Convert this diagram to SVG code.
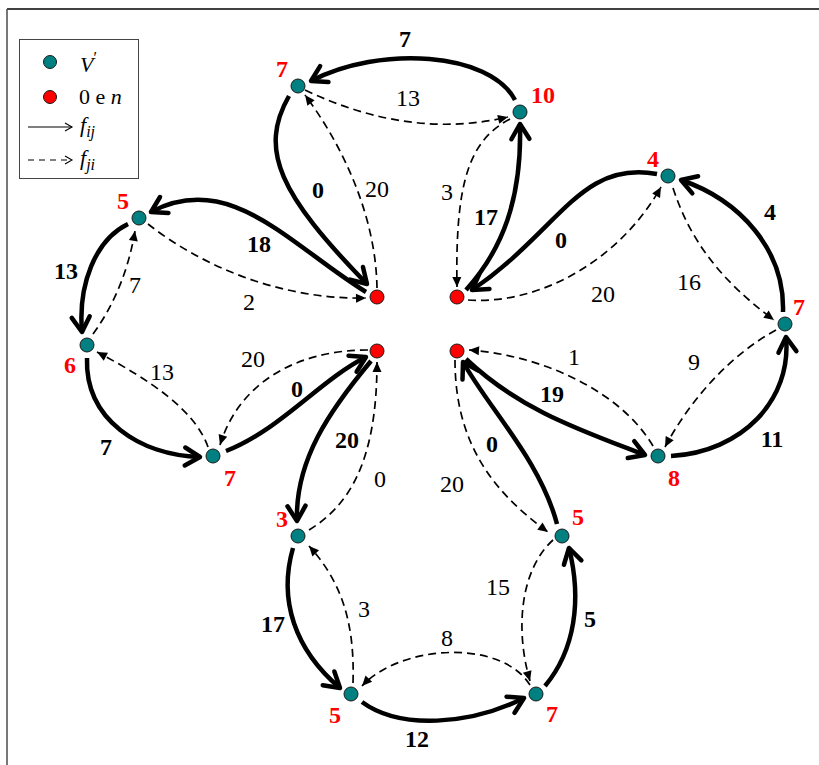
<svg xmlns="http://www.w3.org/2000/svg" width="819" height="765" viewBox="0 0 819 765" font-family="'Liberation Serif', 'DejaVu Serif', serif">
<style>
.s{fill:none;stroke:#000;stroke-width:4.5;marker-end:url(#ah)}
.d{fill:none;stroke:#000;stroke-width:1.7;stroke-dasharray:8 5;marker-end:url(#dh)}
.t{fill:#008080;stroke:#1a1a1a;stroke-width:1}
.r{fill:#ff0000;stroke:#1a1a1a;stroke-width:1}
text{font-family:'Liberation Serif','DejaVu Serif',serif;font-size:24px;text-anchor:middle}
.b{font-weight:bold}
.n{font-weight:bold;fill:#ff0000}
.lg{font-size:22px;text-anchor:start}
</style>
<defs>
<marker id="ah" markerUnits="userSpaceOnUse" viewBox="-20 -13 24 26" markerWidth="24" markerHeight="26" refX="0" refY="0" orient="auto">
<path d="M-15,-9 L0,0 L-15,9" fill="none" stroke="#000" stroke-width="4.5" stroke-linejoin="round" stroke-linecap="round"/>
</marker>
<marker id="dh" markerUnits="userSpaceOnUse" viewBox="-12 -6 14 12" markerWidth="14" markerHeight="12" refX="0" refY="0" orient="auto">
<path d="M-10,-4.5 L0,0 L-10,4.5 Z" fill="#000"/>
</marker>
<marker id="lh" markerUnits="userSpaceOnUse" viewBox="-10 -6 12 12" markerWidth="12" markerHeight="12" refX="0" refY="0" orient="auto">
<path d="M-7,-4 L0,0 L-7,4" fill="none" stroke="#000" stroke-width="1.1"/>
</marker>
</defs>
<rect width="819" height="765" fill="#fff"/>
<line x1="7" y1="9" x2="819" y2="9" stroke="#000" stroke-width="1.3"/>
<line x1="7" y1="9" x2="7" y2="765" stroke="#555" stroke-width="1.6"/>

<g id="legend">
<rect x="19.5" y="39.5" width="119" height="139" fill="#fff" stroke="#444" stroke-width="1"/>
<circle cx="50" cy="62" r="6.5" class="t"/>
<text x="80" y="72" class="lg" font-style="italic">V<tspan font-style="normal" font-size="16" dy="-9">′</tspan></text>
<circle cx="50" cy="97" r="6.5" class="r"/>
<text x="79" y="104" class="lg">0 e <tspan font-style="italic">n</tspan></text>
<line x1="28" y1="127" x2="72" y2="127" stroke="#000" stroke-width="1.1" marker-end="url(#lh)"/>
<text x="80" y="132" class="lg" font-style="italic">f<tspan font-size="16" dy="5">ij</tspan></text>
<line x1="28" y1="160" x2="72" y2="160" stroke="#000" stroke-width="1.1" stroke-dasharray="6 5" marker-end="url(#lh)"/>
<text x="80" y="165" class="lg" font-style="italic">f<tspan font-size="16" dy="5">ji</tspan></text>
</g>

<g id="connectors">
<path class="s" d="M515,100 C490,52 380,45 311,81"/>
<path class="d" d="M305,90 Q410,140 508,117"/>
<path class="s" d="M289,96 C258,150 280,195 367,284"/>
<path class="d" d="M377,288 C376,220 346,150 305,95"/>
<path class="d" d="M510,119 C470,140 455,180 457,287"/>
<path class="s" d="M466,290 C502,250 522,200 520,124"/>
<path class="s" d="M366,292 C290,245 230,170 151,212"/>
<path class="d" d="M148,224 C200,265 280,300 366,298"/>
<path class="s" d="M128,224 C95,240 78,285 82,332"/>
<path class="d" d="M93,334 Q125,290 135,231"/>
<path class="s" d="M87,358 C85,420 140,455 200,457"/>
<path class="d" d="M208,447 C195,410 150,380 97,352"/>
<path class="s" d="M226,451 C280,430 320,380 366,357"/>
<path class="d" d="M368,350 C300,350 240,380 220,445"/>
<path class="s" d="M371,361 C330,410 295,460 297,521"/>
<path class="d" d="M309,530 C350,505 377,460 377,362"/>
<path class="s" d="M293,548 C278,600 295,650 340,688"/>
<path class="d" d="M353,683 C355,620 340,580 309,546"/>
<path class="s" d="M362,702 C400,730 470,725 524,698"/>
<path class="d" d="M530,685 C500,638 400,645 362,686"/>
<path class="s" d="M545,686 C575,650 582,600 569,548"/>
<path class="d" d="M553,540 C520,570 515,630 530,681"/>
<path class="s" d="M557,524 C540,460 490,410 463,362"/>
<path class="d" d="M455,360 C455,440 490,490 548,532"/>
<path class="s" d="M466,359 C520,410 580,430 645,455"/>
<path class="d" d="M653,446 C620,390 540,355 469,350"/>
<path class="s" d="M671,456 C742,452 792,400 786,337"/>
<path class="d" d="M776,330 C730,355 690,400 665,447"/>
<path class="s" d="M783,312 C785,250 740,200 681,180"/>
<path class="d" d="M673,188 C690,240 720,280 774,320"/>
<path class="d" d="M468,300 C540,305 620,260 661,187"/>
<path class="s" d="M657,174 C580,160 560,230 472,290"/>
</g>

<g id="edge-labels">
<text x="405" y="47" class="b">7</text>
<text x="408" y="106">13</text>
<text x="318" y="198" class="b">0</text>
<text x="377" y="197">20</text>
<text x="447" y="200">3</text>
<text x="486" y="225" class="b">17</text>
<text x="259" y="252" class="b">18</text>
<text x="66" y="279" class="b">13</text>
<text x="135" y="293">7</text>
<text x="249" y="310">2</text>
<text x="162" y="380">13</text>
<text x="253" y="367">20</text>
<text x="297" y="397" class="b">0</text>
<text x="106" y="455" class="b">7</text>
<text x="347" y="448" class="b">20</text>
<text x="380" y="487">0</text>
<text x="273" y="632" class="b">17</text>
<text x="364" y="617">3</text>
<text x="447" y="646">8</text>
<text x="417" y="747" class="b">12</text>
<text x="590" y="627" class="b">5</text>
<text x="498" y="595">15</text>
<text x="452" y="492">20</text>
<text x="492" y="452" class="b">0</text>
<text x="552" y="402" class="b">19</text>
<text x="574" y="365">1</text>
<text x="772" y="447" class="b">11</text>
<text x="694" y="370">9</text>
<text x="689" y="290">16</text>
<text x="770" y="220" class="b">4</text>
<text x="603" y="302">20</text>
<text x="561" y="248" class="b">0</text>
</g>

<g id="n-r1"><circle cx="377" cy="297" r="7" class="r"/></g>
<g id="n-r2"><circle cx="457" cy="297" r="7" class="r"/></g>
<g id="n-r3"><circle cx="377" cy="351" r="7" class="r"/></g>
<g id="n-r4"><circle cx="457" cy="351" r="7" class="r"/></g>

<g id="n-top7"><circle cx="298" cy="86" r="7" class="t"/><text x="282" y="77" class="n">7</text></g>
<g id="n-top10"><circle cx="520" cy="112" r="7" class="t"/><text x="543" y="103" class="n">10</text></g>
<g id="n-l5"><circle cx="139" cy="218" r="7" class="t"/><text x="123" y="209" class="n">5</text></g>
<g id="n-l6"><circle cx="87" cy="345" r="7" class="t"/><text x="70" y="373" class="n">6</text></g>
<g id="n-l7"><circle cx="213" cy="456" r="7" class="t"/><text x="230" y="486" class="n">7</text></g>
<g id="n-b3"><circle cx="298" cy="536" r="7" class="t"/><text x="282" y="527" class="n">3</text></g>
<g id="n-b5"><circle cx="351" cy="694" r="7" class="t"/><text x="335" y="723" class="n">5</text></g>
<g id="n-b7"><circle cx="536" cy="694" r="7" class="t"/><text x="552" y="722" class="n">7</text></g>
<g id="n-br5"><circle cx="562" cy="536" r="7" class="t"/><text x="578" y="525" class="n">5</text></g>
<g id="n-r8"><circle cx="658" cy="456" r="7" class="t"/><text x="674" y="486" class="n">8</text></g>
<g id="n-r7"><circle cx="785" cy="324" r="7" class="t"/><text x="799" y="315" class="n">7</text></g>
<g id="n-r4b"><circle cx="668" cy="176" r="7" class="t"/><text x="653" y="167" class="n">4</text></g>
</svg>
